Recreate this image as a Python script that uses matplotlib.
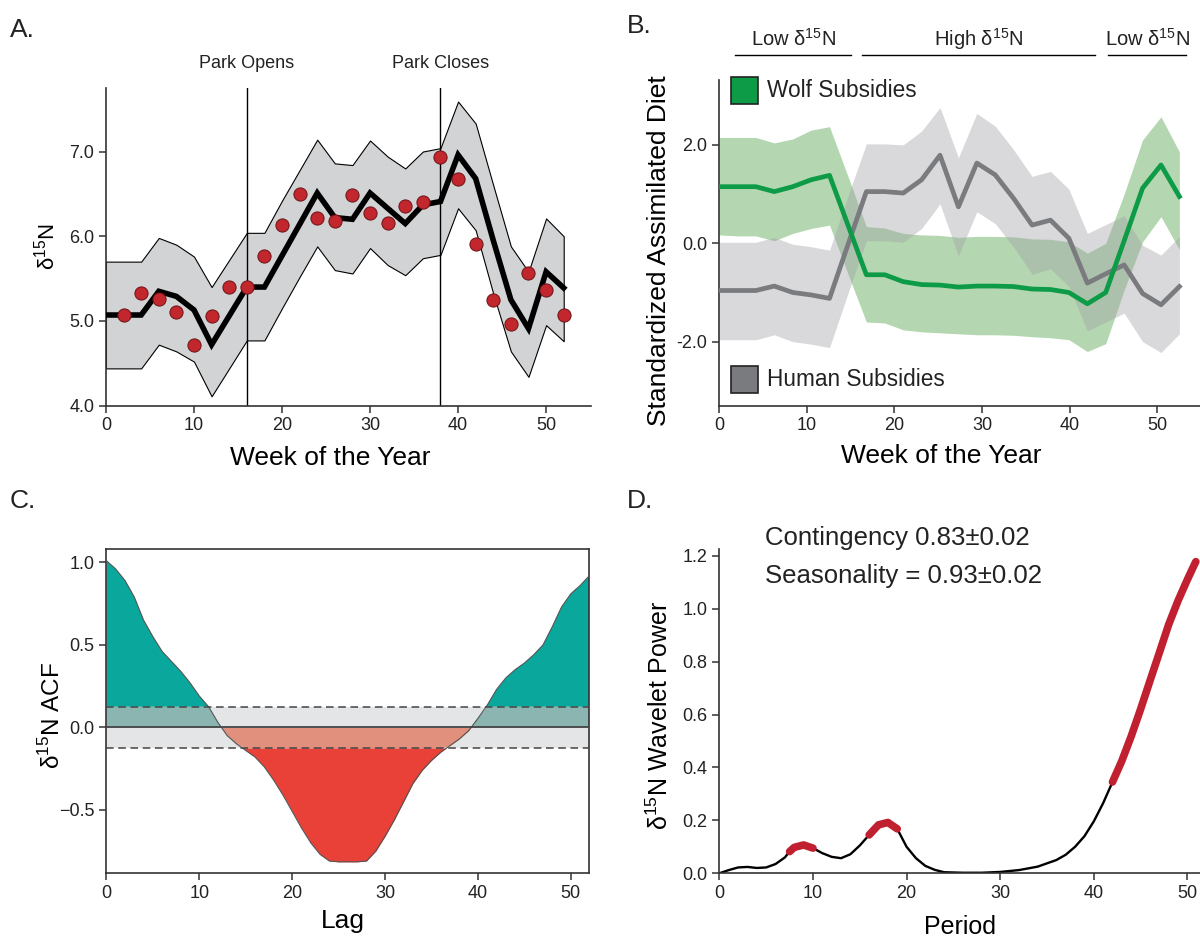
import numpy as np
import matplotlib
matplotlib.use('Agg')
import matplotlib.pyplot as plt
from matplotlib.patches import Rectangle
from matplotlib.transforms import blended_transform_factory

plt.rcParams['font.family'] = ['Liberation Sans', 'DejaVu Sans']
plt.rcParams['mathtext.fontset'] = 'custom'
plt.rcParams['mathtext.rm'] = 'Liberation Sans'
plt.rcParams['text.color'] = '#222222'

D15N = r'δ$^{15}$N'

# --- A: weekly d15N with model fit ---
weeks_a = [0, 2, 4, 6, 8, 10, 12, 14, 16, 18, 20, 22, 24, 26, 28, 30, 32, 34, 36, 38, 40, 42, 44, 46, 48, 50, 52]
fit_mean = [5.07, 5.07, 5.07, 5.35, 5.29, 5.13, 4.72, 5.06, 5.40, 5.40, 5.77, 6.14, 6.51, 6.22, 6.20, 6.51, 6.33,
            6.15, 6.37, 6.41, 6.96, 6.68, 5.95, 5.25, 4.91, 5.58, 5.39]
fit_hi = [5.70, 5.70, 5.70, 5.98, 5.90, 5.76, 5.40, 5.72, 6.04, 6.04, 6.42, 6.78, 7.14, 6.86, 6.84, 7.13, 6.94,
          6.80, 7.00, 7.04, 7.59, 7.33, 6.60, 5.88, 5.58, 6.21, 6.00]
fit_lo = [4.44, 4.44, 4.44, 4.72, 4.64, 4.52, 4.11, 4.44, 4.77, 4.77, 5.15, 5.52, 5.88, 5.60, 5.56, 5.86, 5.66,
          5.54, 5.74, 5.78, 6.33, 6.07, 5.32, 4.64, 4.34, 4.95, 4.76]
obs_weeks = [2, 4, 6, 8, 10, 12, 14, 16, 18, 20, 22, 24, 26, 28, 30, 32, 34, 36, 38, 40, 42, 44, 46, 48, 50, 52]
obs_d15n = [5.07, 5.33, 5.26, 5.11, 4.72, 5.06, 5.40, 5.40, 5.77, 6.13, 6.50, 6.21, 6.18, 6.49, 6.28, 6.16, 6.36,
            6.40, 6.94, 6.68, 5.91, 5.25, 4.96, 5.57, 5.37, 5.07]
park_events = [(16, 'Park Opens'), (38, 'Park Closes')]

# --- B: standardized assimilated diet ---
weeks_b = [0, 2.1, 4.2, 6.3, 8.4, 10.5, 12.6, 14.7, 16.8, 18.9, 21.0, 23.1, 25.2, 27.3, 29.4, 31.5, 33.6, 35.7,
           37.8, 39.9, 42.0, 44.1, 46.2, 48.3, 50.4, 52.5]
wolf_mean = [1.15, 1.15, 1.15, 1.05, 1.15, 1.29, 1.38, 0.37, -0.64, -0.64, -0.78, -0.84, -0.85, -0.89, -0.87, -0.87,
             -0.88, -0.93, -0.94, -1.00, -1.23, -1.00, 0.05, 1.12, 1.59, 0.95]
wolf_hi = [2.15, 2.15, 2.15, 2.04, 2.12, 2.30, 2.37, 1.36, 0.34, 0.31, 0.20, 0.17, 0.16, 0.12, 0.14, 0.14, 0.13,
           0.09, 0.08, 0.03, -0.20, 0.00, 1.00, 2.10, 2.57, 1.86]
wolf_lo = [0.17, 0.15, 0.15, 0.05, 0.20, 0.30, 0.37, -0.62, -1.60, -1.62, -1.76, -1.80, -1.82, -1.84, -1.86, -1.86,
           -1.87, -1.90, -1.92, -1.96, -2.20, -2.04, -0.95, 0.03, 0.54, -0.13]
human_mean = [-0.96, -0.96, -0.96, -0.87, -1.00, -1.05, -1.12, -0.03, 1.05, 1.05, 1.02, 1.29, 1.79, 0.74, 1.63, 1.39,
              0.91, 0.37, 0.47, 0.10, -0.81, -0.62, -0.44, -1.02, -1.25, -0.88]
human_hi = [0.02, 0.02, 0.02, 0.12, -0.02, -0.07, -0.14, 0.96, 2.02, 2.02, 2.00, 2.28, 2.76, 1.74, 2.64, 2.38, 1.90,
            1.36, 1.46, 1.10, 0.20, 0.38, 0.56, -0.04, -0.24, 0.14]
human_lo = [-1.96, -1.96, -1.96, -1.86, -2.00, -2.05, -2.12, -1.02, 0.05, 0.05, 0.02, 0.30, 0.80, -0.26, 0.64, 0.40,
            -0.08, -0.63, -0.52, -0.88, -1.78, -1.60, -1.42, -2.00, -2.22, -1.84]
season_spans = [(1.8, 15.1, 'Low ' + D15N), (16.3, 42.9, 'High ' + D15N), (44.4, 53.3, 'Low ' + D15N)]

# --- C: autocorrelation of d15N ---
lags = list(range(53))
acf = [1.01, 0.96, 0.89, 0.79, 0.65, 0.55, 0.46, 0.40, 0.34, 0.27, 0.19, 0.125, 0.03, -0.05, -0.10, -0.14, -0.18,
       -0.24, -0.32, -0.41, -0.51, -0.61, -0.70, -0.77, -0.81, -0.815, -0.815, -0.815, -0.81, -0.75, -0.66, -0.56,
       -0.45, -0.34, -0.26, -0.20, -0.15, -0.11, -0.07, -0.02, 0.055, 0.135, 0.23, 0.30, 0.35, 0.39, 0.44, 0.50,
       0.61, 0.73, 0.81, 0.86, 0.92]
acf_conf = 0.125

# --- D: global wavelet power ---
periods = [0, 1, 2, 3, 4, 5, 6, 7, 7.5, 8, 9, 10, 11, 12, 13, 14, 15, 16, 17, 18, 19, 20, 21, 22, 23, 24, 26, 28,
           30, 32, 34, 36, 37, 38, 39, 40, 41, 42, 43, 44, 45, 46, 47, 48, 49, 50, 50.9]
power = [0.0, 0.012, 0.022, 0.024, 0.02, 0.022, 0.035, 0.06, 0.082, 0.098, 0.107, 0.095, 0.076, 0.062, 0.057,
         0.072, 0.105, 0.145, 0.183, 0.192, 0.168, 0.1, 0.057, 0.028, 0.013, 0.004, 0.002, 0.002, 0.005, 0.012,
         0.025, 0.05, 0.07, 0.1, 0.14, 0.196, 0.265, 0.345, 0.425, 0.518, 0.62, 0.727, 0.833, 0.94, 1.03, 1.11, 1.178]
significant = [(7.5, 10), (16, 19), (42, 50.9)]
contingency = '0.83±0.02'
seasonality = '0.93±0.02'

GREEN = '#0d9b47'
GRAY_LINE = '#7a7b7e'
DOT_RED = '#c1272d'


def style(ax, box=False):
    for side in ['left', 'bottom', 'top', 'right']:
        ax.spines[side].set_color('#333333')
        ax.spines[side].set_linewidth(1.2)
    if not box:
        ax.spines['top'].set_visible(False)
        ax.spines['right'].set_visible(False)
    ax.tick_params(direction='out', length=5, width=1.1, labelsize=13, colors='#333333', labelcolor='#222222')


fig = plt.figure(figsize=(12, 9.39), dpi=100)

# Panel A
axA = fig.add_axes([0.0883, 0.568, 0.4042, 0.3383])
axA.fill_between(weeks_a, fit_lo, fit_hi, facecolor='#d1d3d4', edgecolor='black', lw=0.8, zorder=1)
trA = blended_transform_factory(axA.transData, axA.transAxes)
for wk, label in park_events:
    axA.axvline(wk, color='black', lw=1.0, zorder=2)
    axA.text(wk, 1.078, label, transform=trA, ha='center', va='center', fontsize=13, clip_on=False)
axA.plot(weeks_a, fit_mean, color='black', lw=4, zorder=3, solid_joinstyle='miter')
axA.plot(obs_weeks, obs_d15n, 'o', ms=9.5, mfc=DOT_RED, mec='#6e1216', mew=0.7, zorder=4)
axA.set_xlim(0, 55.1)
axA.set_ylim(4.0, 7.75)
axA.set_xticks(range(0, 51, 10))
axA.set_yticks([4, 5, 6, 7], labels=[f'{v:.1f}' for v in [4, 5, 6, 7]])
style(axA)
axA.set_xlabel('Week of the Year', fontsize=19, va='center')
axA.xaxis.set_label_coords(0.462, -0.165)
axA.set_ylabel(D15N, fontsize=16, va='center')
axA.yaxis.set_label_coords(-0.122, 0.5)

# Panel B
axB = fig.add_axes([0.5992, 0.568, 0.4008, 0.3469])
axB.fill_between(weeks_b, wolf_lo, wolf_hi, color='#5aa852', alpha=0.45, lw=0, zorder=1)
axB.fill_between(weeks_b, human_lo, human_hi, color='#a0a2a5', alpha=0.4, lw=0, zorder=2)
axB.plot(weeks_b, human_mean, color=GRAY_LINE, lw=3.4, zorder=3)
axB.plot(weeks_b, wolf_mean, color=GREEN, lw=3.4, zorder=4)
axB.set_xlim(0, 54.85)
axB.set_ylim(-3.3, 3.32)
axB.set_xticks(range(0, 51, 10))
axB.set_yticks([2, 0, -2], labels=[f'{v:.1f}' for v in [2.0, 0.0, -2.0]])
style(axB)
axB.set_xlabel('Week of the Year', fontsize=19, va='center')
axB.xaxis.set_label_coords(0.462, -0.154)
axB.set_ylabel('Standardized Assimilated Diet', fontsize=19, va='center')
axB.yaxis.set_label_coords(-0.125, 0.475)

# legend squares drawn by hand
for ybox, ytxt, col, name in [(0.926, 0.967, GREEN, 'Wolf Subsidies'),
                              (0.039, 0.079, GRAY_LINE, 'Human Subsidies')]:
    axB.add_patch(Rectangle((0.025, ybox), 0.056, 0.083, transform=axB.transAxes, facecolor=col,
                            edgecolor='#222222', lw=1.2, clip_on=False, zorder=6))
    axB.text(0.1, ytxt, name, transform=axB.transAxes, fontsize=16.3, va='center', ha='left')

trB = blended_transform_factory(axB.transData, axB.transAxes)
for x0, x1, label in season_spans:
    axB.plot([x0, x1], [1.077, 1.077], transform=trB, color='black', lw=1.0, clip_on=False)
    axB.text((x0 + x1) / 2, 1.125, label, transform=trB, ha='center', va='center', fontsize=14.5, clip_on=False)

# Panel C
axC = fig.add_axes([0.0887, 0.0706, 0.4025, 0.3447])
lag_arr = np.array(lags)
acf_arr = np.array(acf)
axC.fill_between(lag_arr, -acf_conf, acf_conf, color='#e3e5e6', lw=0, zorder=1)
axC.fill_between(lag_arr, 0, np.minimum(acf_arr, acf_conf), where=acf_arr >= 0, interpolate=True,
                 color='#8ab5b0', lw=0, zorder=2)
axC.fill_between(lag_arr, acf_conf, acf_arr, where=acf_arr >= acf_conf, interpolate=True,
                 color='#0aa79c', lw=0, zorder=2)
axC.fill_between(lag_arr, 0, np.maximum(acf_arr, -acf_conf), where=acf_arr <= 0, interpolate=True,
                 color='#e0907c', lw=0, zorder=2)
axC.fill_between(lag_arr, -acf_conf, acf_arr, where=acf_arr <= -acf_conf, interpolate=True,
                 color='#e94137', lw=0, zorder=2)
axC.plot(lag_arr, acf_arr, color='#555555', lw=0.8, zorder=3)
axC.axhline(0, color='#444444', lw=1.3, zorder=4)
for c in (acf_conf, -acf_conf):
    axC.axhline(c, color='#444444', lw=1.1, ls=(0, (5, 3)), zorder=4)
axC.set_xlim(0, 52)
axC.set_ylim(-0.881, 1.081)
axC.set_xticks(range(0, 51, 10))
axC.set_yticks([-0.5, 0.0, 0.5, 1.0])
style(axC, box=True)
axC.set_xlabel('Lag', fontsize=19, va='center')
axC.xaxis.set_label_coords(0.49, -0.15)
axC.set_ylabel(D15N + ' ACF', fontsize=17.5, va='center')
axC.yaxis.set_label_coords(-0.112, 0.485)

# Panel D
axD = fig.add_axes([0.5995, 0.07, 0.4005, 0.3454])
p_arr = np.array(periods)
w_arr = np.array(power)
axD.plot(p_arr, w_arr, color='black', lw=1.7, zorder=2)
for lo, hi in significant:
    m = (p_arr >= lo) & (p_arr <= hi)
    axD.plot(p_arr[m], w_arr[m], color='#c0202f', lw=5.5, solid_capstyle='round', zorder=3)
axD.set_xlim(0, 51.35)
axD.set_ylim(0, 1.226)
axD.set_xticks(range(0, 51, 10))
axD.set_yticks([0.0, 0.2, 0.4, 0.6, 0.8, 1.0, 1.2])
axD.yaxis.set_major_formatter(plt.FormatStrFormatter('%.1f'))
style(axD)
axD.set_xlabel('Period', fontsize=18, va='center')
axD.xaxis.set_label_coords(0.5, -0.165)
axD.set_ylabel(D15N + ' Wavelet Power', fontsize=18, va='center')
axD.yaxis.set_label_coords(-0.125, 0.488)
fig.text(765 / 1200, 1 - 538 / 939, 'Contingency ' + contingency, fontsize=18.5, va='center', ha='left')
fig.text(765 / 1200, 1 - 576 / 939, 'Seasonality = ' + seasonality, fontsize=18.5, va='center', ha='left')

# panel letters
for x, y, letter in [(10, 30, 'A.'), (627, 26, 'B.'), (10, 501, 'C.'), (627, 501, 'D.')]:
    fig.text(x / 1200, 1 - y / 939, letter, fontsize=19, va='center', ha='left')

fig.savefig('out.png', dpi=100)
